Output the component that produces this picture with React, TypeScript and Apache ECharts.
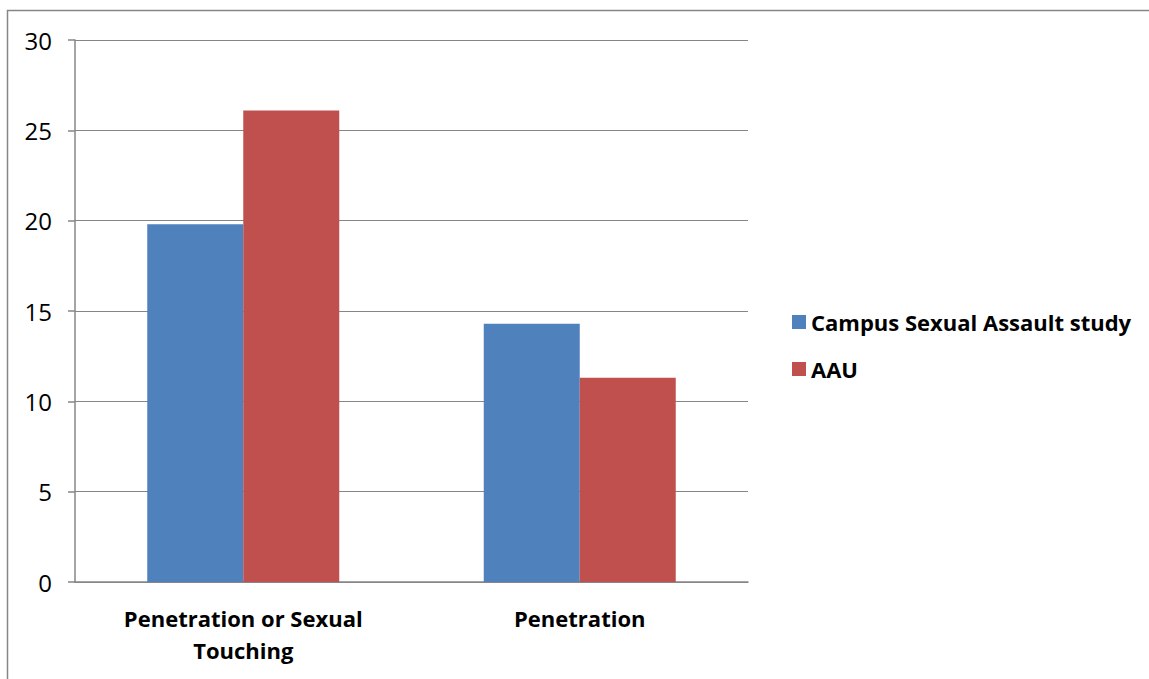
import React, { useEffect, useRef } from "react";
import * as echarts from "echarts";

const categories = ["Penetration or Sexual\nTouching", "Penetration"];
const campusValues = [19.8, 14.3];
const aauValues = [26.1, 11.3];
const seriesNames = ["Campus Sexual Assault study", "AAU"];

export default function App() {
  const ref = useRef<HTMLDivElement>(null);
  useEffect(() => {
    const chart = echarts.init(ref.current!, null, { renderer: "svg" });
    const font = "'Open Sans', sans-serif";
    chart.setOption({
      animation: false,
      backgroundColor: "#ffffff",
      graphic: [
        {
          type: "rect",
          shape: { x: 7.5, y: 10.5, width: 1200, height: 700 },
          style: { fill: "none", stroke: "#868686", lineWidth: 1.5 },
          silent: true,
        },
      ],
      grid: { left: 75, top: 40, width: 673, height: 542, containLabel: false },
      legend: {
        orient: "vertical",
        left: 787,
        top: 306,
        itemWidth: 14,
        itemHeight: 14,
        itemGap: 25,
        icon: "rect",
        textStyle: { fontFamily: font, fontSize: 22, fontWeight: "bold", color: "#000" },
        data: seriesNames,
      },
      xAxis: {
        type: "category",
        data: categories,
        axisLine: { lineStyle: { color: "#868686", width: 1.5 } },
        axisTick: { length: 7, lineStyle: { color: "#868686", width: 1.5 } },
        axisLabel: {
          fontFamily: font,
          fontSize: 22,
          fontWeight: "bold",
          color: "#000",
          margin: 20,
          lineHeight: 32,
          interval: 0,
        },
      },
      yAxis: {
        type: "value",
        min: 0,
        max: 30,
        interval: 5,
        axisLine: { show: true, lineStyle: { color: "#868686", width: 1.5 } },
        axisTick: { show: true, length: 7, lineStyle: { color: "#868686", width: 1.5 } },
        splitLine: { lineStyle: { color: "#868686", width: 1.2 } },
        axisLabel: { fontFamily: font, fontSize: 24, color: "#000", margin: 23 },
      },
      series: [
        {
          name: seriesNames[0],
          type: "bar",
          data: campusValues,
          barWidth: 96,
          barGap: "0%",
          itemStyle: { color: "#4f81bd" },
        },
        {
          name: seriesNames[1],
          type: "bar",
          data: aauValues,
          barWidth: 96,
          barGap: "0%",
          itemStyle: { color: "#c0504d" },
        },
      ],
    });
    return () => chart.dispose();
  }, []);
  return (
    <div
      ref={ref}
      style={{ position: "fixed", left: 0, top: 0, width: 1149, height: 679 }}
    />
  );
}
